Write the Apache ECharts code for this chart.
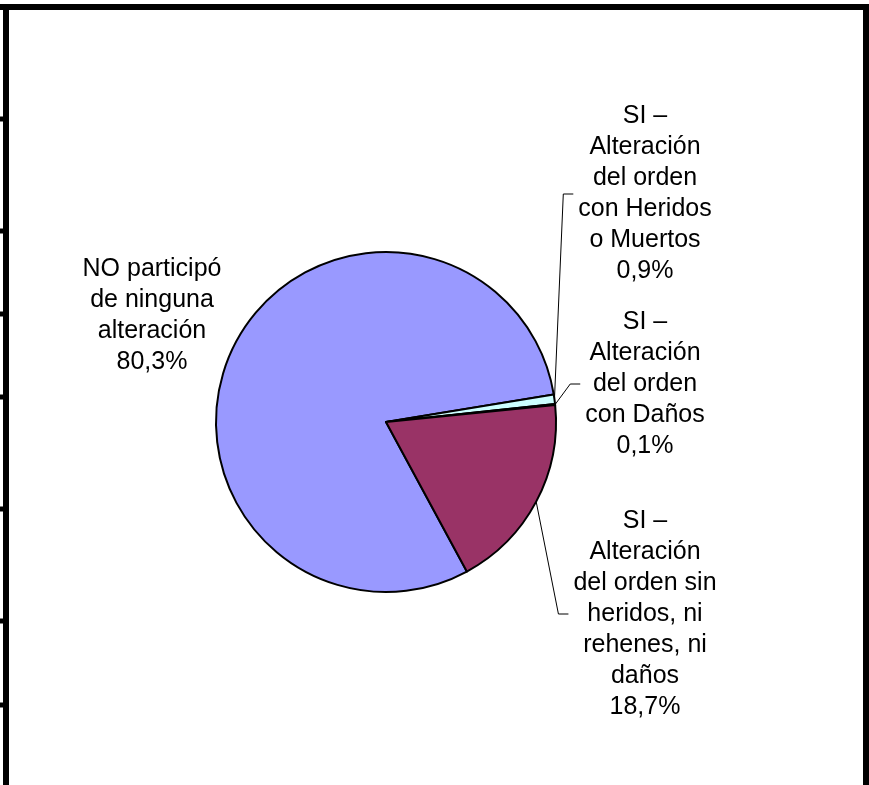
<!DOCTYPE html>
<html>
<head>
<meta charset="utf-8">
<script src="https://cdn.jsdelivr.net/npm/echarts@6/dist/echarts.min.js"></script>
<style>
html,body{margin:0;padding:0;background:#fff;}
#c{width:869px;height:785px;}
</style>
</head>
<body>
<div id="c"></div>
<script>
// ---- data ----
const categories = [
  'NO participó\nde ninguna\nalteración',
  'SI –\nAlteración\ndel orden\ncon Heridos\no Muertos',
  'SI –\nAlteración\ndel orden\ncon Daños',
  'SI –\nAlteración\ndel orden sin\nheridos, ni\nrehenes, ni\ndaños'
];
const values = [80.3, 0.9, 0.1, 18.7];

// ---- styling / layout ----
const colors = ['#9999FF', '#CCFFFF', '#FFFFCC', '#993366'];
const labelCenters = [[152, 316], [645, 194], [645, 384], [645, 614]];
const leftTicks = [119, 231, 314, 397, 509, 621, 705];

const fmtPct = v => v.toFixed(1).replace('.', ',') + '%';

const frame = [
  { type: 'rect', shape: { x: 0, y: 4, width: 869, height: 6 }, style: { fill: '#000' } },
  { type: 'rect', shape: { x: 3, y: 4, width: 6, height: 781 }, style: { fill: '#000' } },
  { type: 'rect', shape: { x: 863, y: 4, width: 6, height: 781 }, style: { fill: '#000' } }
].concat(leftTicks.map(y => ({
  type: 'rect', shape: { x: 0, y: y - 2.5, width: 4, height: 5 }, style: { fill: '#000' }
})));

const chart = echarts.init(document.getElementById('c'), null, { renderer: 'canvas' });

const option = {
  backgroundColor: '#fff',
  animation: false,
  graphic: frame,
  series: [{
    type: 'pie',
    center: [386, 422],
    radius: 170,
    startAngle: -61.6,
    clockwise: true,
    avoidLabelOverlap: false,
    emphasis: { disabled: true },
    itemStyle: { borderColor: '#000', borderWidth: 2 },
    label: {
      show: true,
      position: 'outside',
      formatter: p => p.name + '\n' + fmtPct(p.value),
      fontFamily: '"Liberation Sans", Arial, sans-serif',
      fontSize: 25,
      lineHeight: 31,
      color: '#000',
      align: 'center'
    },
    labelLine: { show: true, length: 10, length2: 10, smooth: false, lineStyle: { color: '#000', width: 1 } },
    labelLayout: function (params) {
      const i = params.dataIndex;
      const cx = labelCenters[i][0], cy = labelCenters[i][1];
      const w = params.labelRect.width;
      const res = { x: cx, y: cy, align: 'center', verticalAlign: 'middle' };
      if (params.labelLinePoints && i !== 0) {
        const p0 = params.labelLinePoints[0];
        const endX = cx - w / 2 - 5;
        res.labelLinePoints = [p0, [endX - 10, cy], [endX, cy]];
      }
      return res;
    },
    data: categories.map((n, i) => ({
      name: n,
      value: values[i],
      itemStyle: { color: colors[i] },
      labelLine: { show: i !== 0 }
    }))
  }]
};
chart.setOption(option);
</script>
</body>
</html>
